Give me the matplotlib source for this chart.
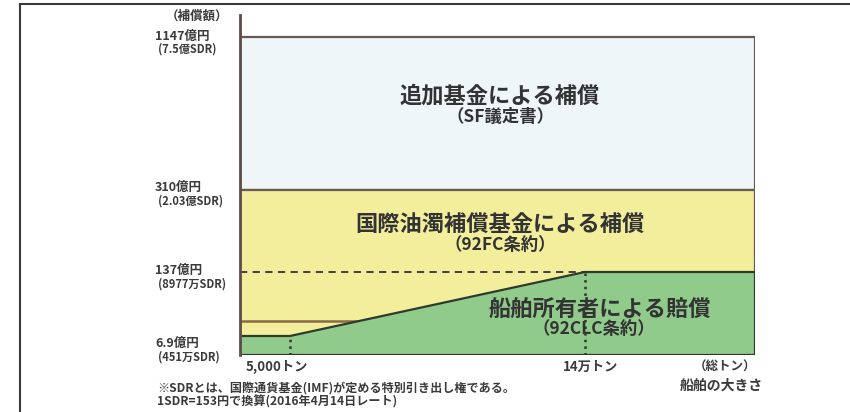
import matplotlib.pyplot as plt
import matplotlib
from matplotlib.patches import Rectangle, Polygon
from matplotlib.lines import Line2D
import numpy as np

plt.rcParams['font.family'] = ['Noto Sans CJK JP', 'DejaVu Sans']

# limits (億円) and tonnage
limit_oku = [6.9, 137, 310, 1147]
limit_main = ["6.9億円", "137億円", "310億円", "1147億円"]
limit_sdr = ["(451万SDR)", "(8977万SDR)", "(2.03億SDR)", "(7.5億SDR)"]
old_limit = 37  # brown line, rough read
tonnage = [5000, 140000]
tonnage_labels = ["5,000トン", "14万トン"]
ton_max = 200000
region_titles = ["船舶所有者による賠償", "国際油濁補償基金による補償", "追加基金による補償"]
region_subs = ["（92CLC条約）", "（92FC条約）", "（SF議定書）"]
note_lines = ["※SDRとは、国際通貨基金(IMF)が定める特別引き出し権である。",
              "1SDR=153円で換算(2016年4月14日レート)"]

# schematic (non linear) scales, pixel positions from the picture
y_vals = [0, 6.9, 137, 310, 1147, 1270]
y_pix = [0, 19, 83, 165, 318, 340]
x_vals = [0, 5000, 140000, ton_max]
x_pix = [0, 50, 345, 515]

fig = plt.figure(figsize=(8.5, 4.12), dpi=100)
W, H = 850, 412
ax = fig.add_axes([240 / W, (H - 355) / H, 515 / W, 340 / H])
ax.set_xscale('function', functions=(lambda v: np.interp(v, x_vals, x_pix),
                                     lambda p: np.interp(p, x_pix, x_vals)))
ax.set_yscale('function', functions=(lambda v: np.interp(v, y_vals, y_pix),
                                     lambda p: np.interp(p, y_pix, y_vals)))
ax.set_xlim(0, ton_max)
ax.set_ylim(0, 1270)

blue = '#eef6f8'
yellow = '#f2ee9c'
green = '#90cb8c'
brown = '#6a5852'

ax.add_patch(Rectangle((0, limit_oku[2]), ton_max, limit_oku[3] - limit_oku[2],
                       facecolor=blue, edgecolor=brown, lw=1.6, zorder=1))
ax.add_patch(Rectangle((0, 0), ton_max, limit_oku[2],
                       facecolor=yellow, edgecolor=brown, lw=1.6, zorder=1))
gx = [0, tonnage[0], tonnage[1], ton_max, ton_max, 0]
gy = [limit_oku[0], limit_oku[0], limit_oku[1], limit_oku[1], 0, 0]
ax.add_patch(Polygon(list(zip(gx, gy)), closed=True, facecolor=green,
                     edgecolor='#2e3a2c', lw=1.6, zorder=2))

# brown line, runs under the green slope
ax.plot([0, 60000], [old_limit, old_limit], color='#8a6a45', lw=1.8, zorder=1.5)

ax.plot([0, tonnage[1]], [limit_oku[1], limit_oku[1]], ls=(0, (4, 3)), color='#333333', lw=1.3, zorder=3)
ax.plot([tonnage[0], tonnage[0]], [0, limit_oku[0]], ls=':', color='#2a3a28', lw=1.8, zorder=4)
ax.plot([tonnage[1], tonnage[1]], [0, limit_oku[1]], ls=':', color='#2a3a28', lw=1.8, zorder=4)

for s in ['top', 'right', 'bottom']:
    ax.spines[s].set_visible(False)
ax.spines['left'].set_color('#5e4c48')
ax.spines['left'].set_linewidth(2)
ax.spines['left'].set_zorder(5)
ax.set_xticks([])
ax.set_yticks([])

tc = '#3a3a3a'
ytr = ax.get_yaxis_transform()
# main line offset / sub line offset in pixels (image coords: + is down)
offs = [(7, 21), (-2, 12), (-3, 11), (-1, 12)]
for v, m, sdr, (o1, o2) in zip(limit_oku, limit_main, limit_sdr, offs):
    ax.annotate(m, xy=(-85 / 515, v), xycoords=ytr, xytext=(0, -o1), textcoords='offset pixels',
                ha='left', va='center', fontsize=9, fontweight='bold', color=tc)
    ax.annotate(sdr, xy=(-82 / 515, v), xycoords=ytr, xytext=(0, -o2), textcoords='offset pixels',
                ha='left', va='center', fontsize=8, fontweight='bold', color=tc)
fig.text(197 / W, 1 - 16 / H, "（補償額）", ha='center', va='center', fontsize=9, fontweight='bold', color=tc)

xtr = ax.get_xaxis_transform()
x_offs = [-13, 6]
for t, lab, o in zip(tonnage, tonnage_labels, x_offs):
    ax.annotate(lab, xy=(t, 0), xycoords=xtr, xytext=(o, -12), textcoords='offset pixels',
                ha='center', va='center', fontsize=9.5, fontweight='bold', color=tc)
fig.text(725 / W, 1 - 367 / H, "（総トン）", ha='center', va='center', fontsize=9, fontweight='bold', color=tc)
fig.text(721 / W, 1 - 386 / H, "船舶の大きさ", ha='center', va='center', fontsize=10, fontweight='bold', color=tc)

for i, line in enumerate(note_lines):
    fig.text(157 / W, 1 - (388 + 14 * i) / H, line, ha='left', va='center',
             fontsize=8.7, fontweight='bold', color=tc)

# region labels (axes fraction positions)
title_pos = [((360 / 515, 45 / 340), (354 / 515, 26 / 340)),
             ((260 / 515, 131 / 340), (260 / 515, 110 / 340)),
             ((260 / 515, 259 / 340), (260 / 515, 238 / 340))]
for t, sub, (p1, p2) in zip(region_titles, region_subs, title_pos):
    ax.text(p1[0], p1[1], t, transform=ax.transAxes, ha='center', va='center',
            fontsize=16, fontweight='bold', color='#333333', zorder=3)
    ax.text(p2[0], p2[1], sub, transform=ax.transAxes, ha='center', va='center',
            fontsize=12.5, fontweight='bold', color='#333333', zorder=3)

# outer frame lines of the source image
fig.add_artist(Line2D([20 / W, 1], [1 - 4 / H, 1 - 4 / H], color='#3a3a3a', lw=1.5))
fig.add_artist(Line2D([20 / W, 20 / W], [0, 1 - 4 / H], color='#3a3a3a', lw=1.5))

fig.savefig('out.png', dpi=100)
